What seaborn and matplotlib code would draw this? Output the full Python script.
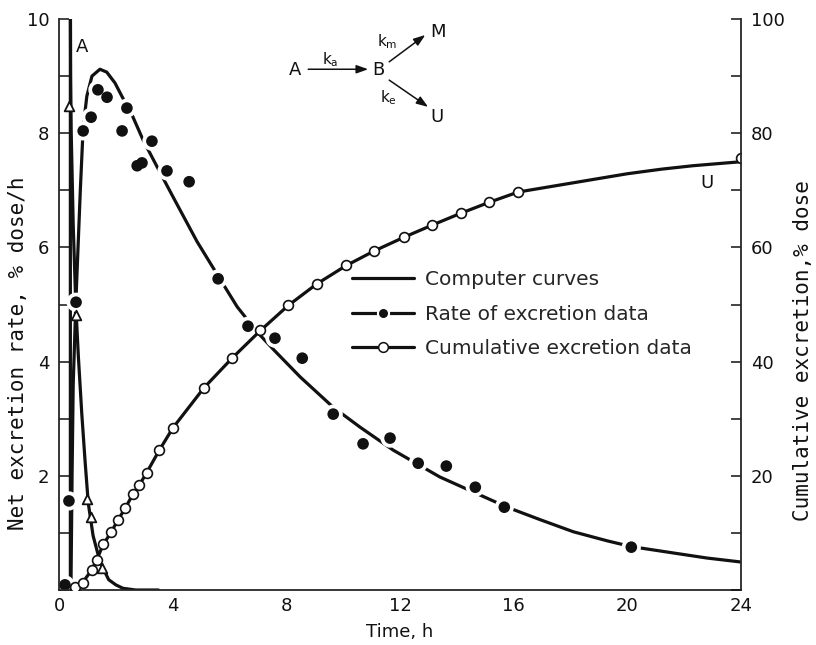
import numpy as np
import pandas as pd
import matplotlib
matplotlib.use("Agg")
import matplotlib.pyplot as plt
from matplotlib.lines import Line2D
import seaborn as sns

# ---- data -------------------------------------------------------------
# absorption-rate curve for compartment A (% dose/h)
a_curve_t = [0.40, 0.40, 0.41, 0.43, 0.50, 0.59, 0.68, 0.80, 0.92, 1.03, 1.20, 1.45, 1.75, 2.00, 2.25, 2.70, 3.50]
a_curve_y = [0.00, 10.6, 9.00, 8.00, 6.40, 5.00, 4.10, 3.10, 2.24, 1.52, 0.95, 0.48, 0.18, 0.09, 0.03, 0.00, 0.00]

# urinary excretion-rate curve (% dose/h)
rate_curve_t = [0.42, 0.46, 0.50, 0.59, 0.67, 0.75, 0.85, 0.98, 1.16, 1.44, 1.68, 1.97, 2.22, 2.57,
                2.96, 3.38, 3.73, 4.05, 4.86, 5.60, 6.27, 6.97, 7.57, 8.49, 9.65, 10.6, 11.76,
                13.4, 15.77, 16.94, 18.1, 19.3, 20.14, 21.6, 22.8, 24.0]
rate_curve_y = [0.00, 2.00, 3.60, 5.00, 6.00, 7.00, 8.10, 8.65, 9.00, 9.12, 9.07, 8.88, 8.64, 8.32,
                7.88, 7.48, 7.15, 6.85, 6.10, 5.50, 4.96, 4.52, 4.20, 3.73, 3.20, 2.85, 2.45,
                1.98, 1.45, 1.23, 1.02, 0.86, 0.76, 0.65, 0.56, 0.49]

# cumulative excretion curve (% dose)
cum_curve_t = [0.45, 0.56, 0.83, 1.15, 1.32, 1.55, 1.83, 2.08, 2.34, 2.59, 2.83, 3.08, 3.52, 4.01,
               5.10, 6.09, 7.08, 8.06, 9.07, 10.1, 11.1, 12.15, 13.13, 14.15, 15.14, 16.16,
               17.6, 18.8, 20.0, 21.2, 22.3, 23.5, 24.0]
cum_curve_y = [0.0, 0.4, 1.3, 3.5, 5.2, 7.9, 10.1, 12.3, 14.4, 16.7, 18.4, 20.5, 24.4, 28.4,
               35.4, 40.6, 45.4, 49.8, 53.6, 56.8, 59.4, 61.8, 63.9, 66.0, 67.9, 69.7,
               70.9, 71.9, 72.9, 73.7, 74.3, 74.8, 75.0]

# measured excretion rate (% dose/h)
rate_t = [0.21, 0.35, 0.60, 0.85, 1.13, 1.37, 1.69, 2.22, 2.39, 2.75, 2.92, 3.27, 3.80, 4.58,
          5.60, 6.65, 7.60, 8.56, 9.65, 10.7, 11.65, 12.64, 13.63, 14.65, 15.67, 20.14]
rate_y = [0.09, 1.56, 5.04, 8.04, 8.28, 8.76, 8.63, 8.04, 8.44, 7.43, 7.48, 7.86, 7.34, 7.15,
          5.45, 4.62, 4.41, 4.06, 3.08, 2.56, 2.66, 2.22, 2.17, 1.80, 1.45, 0.75]

# measured cumulative excretion (% dose)
cum_t = [0.56, 0.83, 1.15, 1.32, 1.55, 1.83, 2.08, 2.34, 2.59, 2.83, 3.08, 3.52, 4.01,
         5.10, 6.09, 7.08, 8.06, 9.07, 10.1, 11.1, 12.15, 13.13, 14.15, 15.14, 16.16, 24.0]
cum_y = [0.5, 1.2, 3.5, 5.2, 8.0, 10.2, 12.3, 14.4, 16.8, 18.4, 20.5, 24.5, 28.4,
         35.4, 40.6, 45.5, 49.9, 53.6, 56.9, 59.4, 61.8, 63.9, 66.0, 67.9, 69.7, 75.6]

# absorption-site data, A (% dose/h)
abs_t = [0.35, 0.60, 0.99, 1.13, 1.51]
abs_y = [8.48, 4.82, 1.59, 1.28, 0.39]

x_ticks = [0, 4, 8, 12, 16, 20, 24]
left_ticks = [2, 4, 6, 8, 10]
right_ticks = [20, 40, 60, 80, 100]

# ---- style ------------------------------------------------------------
sns.set_style("white")
plt.rcParams["font.family"] = ["DejaVu Sans"]
plt.rcParams["axes.linewidth"] = 1.3
plt.rcParams["mathtext.default"] = "regular"

INK = "#111111"
FS = 13

fig = plt.figure(figsize=(8.16, 6.45), dpi=100)
ax = fig.add_axes([59 / 816, 1 - 590 / 645, (741 - 59) / 816, (590 - 19) / 645])
ax2 = ax.twinx()

curve_kw = dict(color=INK, linewidth=2.3, sort=False, estimator=None, legend=False)
sns.lineplot(x=a_curve_t, y=a_curve_y, ax=ax, **curve_kw)
sns.lineplot(x=rate_curve_t, y=rate_curve_y, ax=ax, **curve_kw)
sns.lineplot(x=cum_curve_t, y=cum_curve_y, ax=ax2, **curve_kw)

# white discs under the filled dots break the fitted curve around each point
sns.scatterplot(x=rate_t, y=rate_y, ax=ax, s=190, color="white", edgecolor="none",
                zorder=3, legend=False)
sns.scatterplot(x=rate_t, y=rate_y, ax=ax, s=70, color=INK, edgecolor="none",
                zorder=4, legend=False)
sns.scatterplot(x=abs_t, y=abs_y, ax=ax, marker="^", s=48, color="white",
                edgecolor=INK, linewidth=1.3, zorder=5, legend=False)
sns.scatterplot(x=cum_t, y=cum_y, ax=ax2, s=50, color="white", edgecolor=INK,
                linewidth=1.2, zorder=5, legend=False)

# ---- axes -------------------------------------------------------------
ax.set_xlim(0, 24)
ax.set_ylim(0, 10)
ax2.set_ylim(0, 100)

ax.set_xticks(x_ticks)
ax.set_xticks(np.arange(0, 25, 2), minor=True)
ax.set_yticks(left_ticks)
ax.set_yticks(np.arange(0, 11, 1), minor=True)
ax2.set_yticks(right_ticks)
ax2.set_yticks(np.arange(0, 101, 10), minor=True)

for a in (ax, ax2):
    a.tick_params(which="both", direction="in", length=7, width=1.1, colors=INK,
                  labelsize=FS, pad=7)
    a.spines["top"].set_visible(False)
    for s in a.spines.values():
        s.set_zorder(6)
ax.tick_params(axis="x", which="both", pad=5)
ax2.spines["left"].set_visible(False)
ax2.spines["bottom"].set_visible(False)
ax.spines["right"].set_visible(False)

# widely spaced lettering for the two vertical axis titles
ylab_kw = dict(fontsize=15, color=INK, family=["DejaVu Sans Mono"])
ax.set_xlabel("Time, h", fontsize=FS, color=INK, labelpad=6)
ax.set_ylabel("Net excretion rate, % dose/h", **ylab_kw)
ax2.set_ylabel("Cumulative excretion,% dose", rotation=90, **ylab_kw)
ax.yaxis.set_label_coords(-31 / 682, 0.415)
ax2.yaxis.set_label_coords(1 + 52 / 682, 0.42)

# ---- labels on the curves --------------------------------------------
ax.text(0.81, 9.51, "A", fontsize=FS, color=INK, ha="center", va="center")
ax.text(22.8, 7.13, "U", fontsize=FS, color=INK, ha="center", va="center")

# ---- reaction scheme A -> B -> M / U ----------------------------------
arrow = dict(arrowstyle="-|>,head_length=0.7,head_width=0.25", color=INK, lw=1.1,
             shrinkA=0, shrinkB=0)
ax.text(8.31, 9.11, "A", fontsize=FS, color=INK, ha="center", va="center")
ax.text(11.23, 9.11, "B", fontsize=FS, color=INK, ha="center", va="center")
ax.text(13.35, 9.77, "M", fontsize=FS, color=INK, ha="center", va="center")
ax.text(13.31, 8.28, "U", fontsize=FS, color=INK, ha="center", va="center")
ax.text(9.54, 9.28, "k$_a$", fontsize=11, color=INK, ha="center", va="center")
ax.text(11.55, 9.60, "k$_m$", fontsize=11, color=INK, ha="center", va="center")
ax.text(11.58, 8.62, "k$_e$", fontsize=11, color=INK, ha="center", va="center")
ax.annotate("", xy=(10.88, 9.12), xytext=(8.77, 9.12), arrowprops=arrow)
ax.annotate("", xy=(12.89, 9.72), xytext=(11.62, 9.25), arrowprops=arrow)
ax.annotate("", xy=(12.99, 8.46), xytext=(11.62, 8.93), arrowprops=arrow)

# ---- legend -----------------------------------------------------------
handles = [
    Line2D([], [], color=INK, lw=2.3),
    Line2D([], [], color=INK, lw=2.3, marker="o", markersize=8, markerfacecolor=INK,
           markeredgecolor="white", markeredgewidth=1.5),
    Line2D([], [], color=INK, lw=2.3, marker="o", markersize=7, markerfacecolor="white",
           markeredgecolor=INK, markeredgewidth=1.1),
]
labels = ["Computer curves", "Rate of excretion data", "Cumulative excretion data"]
ax2.legend(handles, labels, loc="upper left", bbox_to_anchor=(10.3 / 24, 1 - 251 / 571),
           frameon=False, fontsize=14.5, handlelength=3.1, handletextpad=0.55,
           labelspacing=0.78, borderpad=0, borderaxespad=0, numpoints=1)

fig.savefig("out.png", dpi=100)
